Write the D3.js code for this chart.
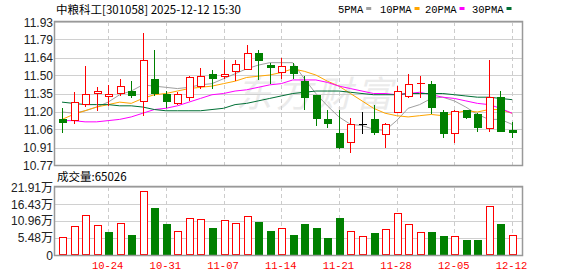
<!DOCTYPE html>
<html>
<head>
<meta charset="utf-8">
<script src="https://cdn.jsdelivr.net/npm/d3@7"></script>
<style>
body { margin: 0; background: #fff; }
svg { display: block; }
</style>
</head>
<body>
<svg id="chart"></svg>
<script>
// K-line data
var dates = ["10-20","10-21","10-22","10-23","10-24","10-27","10-28","10-29","10-30","10-31",
             "11-03","11-04","11-05","11-06","11-07","11-10","11-11","11-12","11-13","11-14",
             "11-17","11-18","11-19","11-20","11-21","11-24","11-25","11-26","11-27","11-28",
             "12-01","12-02","12-03","12-04","12-05","12-08","12-09","12-10","12-11","12-12"];
var open  = [11.14,11.13,11.27,11.35,11.33,11.35,11.37,11.29,11.47,11.35,
             11.28,11.32,11.41,11.51,11.49,11.53,11.55,11.68,11.58,11.52,
             11.57,11.45,11.34,11.14,11.03,10.95,11.10,11.14,11.02,11.20,
             11.33,11.43,11.43,11.20,11.03,11.22,11.18,11.07,11.32,11.05];
var close = [11.11,11.28,11.35,11.37,11.35,11.41,11.33,11.62,11.35,11.28,
             11.35,11.48,11.49,11.47,11.51,11.59,11.68,11.61,11.56,11.57,
             11.51,11.31,11.14,11.10,10.91,11.10,11.10,11.03,11.10,11.37,
             11.43,11.435,11.23,11.02,11.21,11.15,11.07,11.32,11.04,11.03];
var high  = [11.23,11.36,11.57,11.40,11.42,11.47,11.45,11.84,11.70,11.37,
             11.36,11.49,11.56,11.54,11.62,11.62,11.74,11.70,11.60,11.64,
             11.60,11.49,11.34,11.22,11.22,11.15,11.20,11.26,11.11,11.41,
             11.51,11.49,11.45,11.22,11.22,11.22,11.19,11.62,11.37,11.12];
var low   = [11.03,11.10,11.24,11.21,11.25,11.33,11.31,11.17,11.33,11.23,
             11.26,11.29,11.39,11.39,11.47,11.45,11.54,11.46,11.43,11.47,
             11.47,11.22,11.09,11.07,10.90,10.87,11.02,11.01,10.91,11.19,
             11.31,11.31,11.18,10.99,10.95,11.14,11.04,11.04,11.04,10.99];

var ma5  = [11.20,11.19,11.21,11.24,11.28,11.34,11.37,11.42,11.41,11.40,
            11.39,11.40,11.42,11.43,11.47,11.51,11.55,11.58,11.60,11.60,
            11.60,11.47,11.35,11.25,11.16,11.10,11.09,11.06,11.05,11.13,
            11.23,11.26,11.31,11.32,11.29,11.24,11.18,11.14,11.14,11.10];
var ma10 = [11.14,11.18,11.21,11.24,11.26,11.28,11.27,11.31,11.34,11.35,
            11.37,11.39,11.40,11.41,11.43,11.45,11.48,11.49,11.50,11.52,
            11.55,11.53,11.50,11.45,11.41,11.35,11.29,11.23,11.19,11.17,
            11.16,11.17,11.18,11.17,11.19,11.21,11.20,11.22,11.22,11.19];
var ma20 = [11.13,11.13,11.12,11.12,11.13,11.14,11.16,11.19,11.22,11.23,
            11.25,11.28,11.31,11.34,11.35,11.37,11.38,11.40,11.42,11.43,
            11.46,11.46,11.46,11.44,11.41,11.39,11.37,11.35,11.35,11.34,
            11.35,11.36,11.34,11.32,11.31,11.29,11.27,11.26,11.23,11.19];
var ma30 = [11.28,11.27,11.26,11.26,11.26,11.25,11.25,11.24,11.22,11.21,
            11.21,11.21,11.21,11.22,11.23,11.26,11.27,11.29,11.31,11.33,
            11.35,11.36,11.37,11.37,11.37,11.36,11.35,11.34,11.34,11.34,
            11.35,11.35,11.35,11.35,11.34,11.33,11.32,11.32,11.31,11.30];

// volume in 万, and its colour (r = up, g = down)
var volume = [5.80,9.24,12.78,9.56,7.41,10.20,6.44,20.51,15.14,9.99,
              7.63,11.81,11.49,8.70,11.17,10.20,12.46,10.63,7.73,8.59,
              6.44,9.99,8.70,5.48,11.92,7.63,6.12,7.09,8.38,13.43,
              9.88,7.30,7.41,6.12,6.01,4.83,4.83,15.68,9.99,6.50];
var volDir = "rrrrgrgrggrrrgrrrggrgggggrrgrrrrggrggrgr".split("");

var priceTicks = [11.93, 11.79, 11.64, 11.50, 11.35, 11.20, 11.06, 10.91, 10.77];
var volTicks = [21.91, 16.43, 10.96, 5.48, 0];
var dateTicks = ["10-24","10-31","11-07","11-14","11-21","11-28","12-05","12-12"];
var maNames = ["5PMA", "10PMA", "20PMA", "30PMA"];
var maColors = ["#a0a0a0", "#ffa500", "#ff00ff", "#006f35"];

var width = 578, height = 276;
var left = 55, right = 522,
    top1 = 22, bot1 = 165,
    top2 = 187, bot2 = 255;
var red = "#ff0000", green = "#008000";

var svg = d3.select("#chart").attr("width", width).attr("height", height);

var x = d3.scalePoint().domain(dates).range([62, 512]);
var y = d3.scaleLinear().domain([10.77, 11.93]).range([bot1, top1]);
var yv = d3.scaleLinear().domain([0, 21.91]).range([bot2, top2]);

function px(v) { return Math.round(v) + 0.5; }

// watermark
svg.append("text")
    .attr("x", 236).attr("y", 107)
    .attr("font-family", "Noto Sans CJK SC")
    .attr("font-size", 36)
    .attr("font-style", "italic")
    .attr("letter-spacing", 4)
    .attr("fill", "#ebebeb")
    .text("东方财富");

// grids
function grid(g, yscale, ticks, y0, y1) {
    g.selectAll("line.h").data(ticks).enter().append("line")
        .attr("x1", left).attr("x2", right)
        .attr("y1", function(d) { return px(yscale(d)); })
        .attr("y2", function(d) { return px(yscale(d)); })
        .attr("stroke", "#d0d0d0");
    g.selectAll("line.v").data(dateTicks).enter().append("line")
        .attr("x1", function(d) { return px(x(d)); })
        .attr("x2", function(d) { return px(x(d)); })
        .attr("y1", y0).attr("y2", y1)
        .attr("stroke", "#cccccc")
        .attr("stroke-dasharray", "4,3");
}
grid(svg.append("g"), y, priceTicks, top1, bot1);
grid(svg.append("g"), yv, volTicks, top2, bot2);

// moving averages
var maData = [ma5, ma10, ma20, ma30];
maData.forEach(function(arr, k) {
    var line = d3.line()
        .x(function(d, i) { return x(dates[i]); })
        .y(function(d) { return y(d); });
    svg.append("path")
        .attr("d", line(arr))
        .attr("fill", "none")
        .attr("stroke", maColors[k])
        .attr("stroke-width", 1);
});

// candles
var candles = svg.append("g").attr("shape-rendering", "crispEdges");
dates.forEach(function(d, i) {
    var cx = px(x(d));
    var col = close[i] > open[i] ? red : (close[i] < open[i] ? green : "#000");
    var top = y(Math.max(open[i], close[i])), bot = y(Math.min(open[i], close[i]));
    if (close[i] > open[i]) {
        candles.append("line").attr("x1", cx).attr("x2", cx)
            .attr("y1", y(high[i])).attr("y2", top).attr("stroke", col);
        candles.append("line").attr("x1", cx).attr("x2", cx)
            .attr("y1", bot).attr("y2", y(low[i])).attr("stroke", col);
    } else {
        candles.append("line").attr("x1", cx).attr("x2", cx)
            .attr("y1", y(high[i])).attr("y2", y(low[i])).attr("stroke", col);
    }
    if (bot - top < 1.5) {
        candles.append("line").attr("x1", cx - 4).attr("x2", cx + 4)
            .attr("y1", px(top)).attr("y2", px(top)).attr("stroke", col).attr("stroke-width", 1.5);
    } else if (close[i] > open[i]) {
        candles.append("rect").attr("x", cx - 3.5).attr("y", px(top))
            .attr("width", 7).attr("height", Math.round(bot - top))
            .attr("fill", "#fff").attr("stroke", col);
    } else {
        candles.append("rect").attr("x", cx - 4).attr("y", top)
            .attr("width", 8).attr("height", bot - top)
            .attr("fill", col);
    }
});

// volume bars
var vbars = svg.append("g").attr("shape-rendering", "crispEdges");
vbars.selectAll("rect").data(volume).enter().append("rect")
    .attr("x", function(d, i) { return volDir[i] == "r" ? px(x(dates[i])) - 3.5 : px(x(dates[i])) - 4; })
    .attr("y", function(d, i) { return volDir[i] == "r" ? px(yv(d)) : yv(d); })
    .attr("width", function(d, i) { return volDir[i] == "r" ? 7 : 8; })
    .attr("height", function(d, i) { return volDir[i] == "r" ? Math.round(bot2 - yv(d)) - 1 : bot2 - yv(d); })
    .attr("fill", function(d, i) { return volDir[i] == "r" ? "#fff" : green; })
    .attr("stroke", function(d, i) { return volDir[i] == "r" ? red : "none"; });

// frames
[[top1, bot1], [top2, bot2]].forEach(function(f) {
    svg.append("rect")
        .attr("x", left - 0.5).attr("y", f[0] - 0.5)
        .attr("width", right - left + 1).attr("height", f[1] - f[0] + 1)
        .attr("fill", "none").attr("stroke", "#999").attr("stroke-width", 1.5);
});

// axis labels
svg.selectAll("text.py").data(priceTicks).enter().append("text")
    .attr("x", 53).attr("y", function(d) { return y(d) + 4.5; })
    .attr("text-anchor", "end")
    .attr("font-family", "Liberation Sans, Arial")
    .attr("font-size", 12)
    .attr("fill", "#222")
    .text(function(d) { return d.toFixed(2); });

svg.selectAll("text.vy").data(volTicks).enter().append("text")
    .attr("x", 53).attr("y", function(d) { return yv(d) + 4.5; })
    .attr("text-anchor", "end")
    .attr("font-family", "Liberation Sans, Arial, Noto Sans CJK SC")
    .attr("font-size", 12)
    .attr("fill", "#222")
    .text(function(d) { return d == 0 ? "0" : d.toFixed(2) + "万"; });

svg.selectAll("text.dx").data(dateTicks).enter().append("text")
    .attr("x", function(d) { return x(d) - 0.5; }).attr("y", 269)
    .attr("text-anchor", "middle")
    .attr("font-family", "Liberation Mono")
    .attr("font-size", 10.5)
    .attr("fill", red)
    .text(function(d) { return d; });

// title and legend
svg.append("text")
    .attr("x", 56).attr("y", 14)
    .attr("font-family", "Noto Sans CJK SC")
    .attr("font-size", 11.5)
    .attr("fill", "#000")
    .text("中粮科工[301058] 2025-12-12 15:30");

svg.append("text")
    .attr("x", 57).attr("y", 181)
    .attr("font-family", "Noto Sans CJK SC")
    .attr("font-size", 11.5)
    .attr("fill", "#000")
    .text("成交量:65026");

var legX = [338, 380, 425, 472];
maNames.forEach(function(n, k) {
    var t = svg.append("text")
        .attr("x", legX[k]).attr("y", 13)
        .attr("font-family", "Liberation Mono")
        .attr("font-size", 10.5)
        .attr("fill", "#000")
        .text(n);
    var w = t.node().getComputedTextLength();
    svg.append("rect")
        .attr("x", legX[k] + w + 3).attr("y", 7)
        .attr("width", 5).attr("height", 3)
        .attr("fill", maColors[k]);
});
</script>
</body>
</html>
